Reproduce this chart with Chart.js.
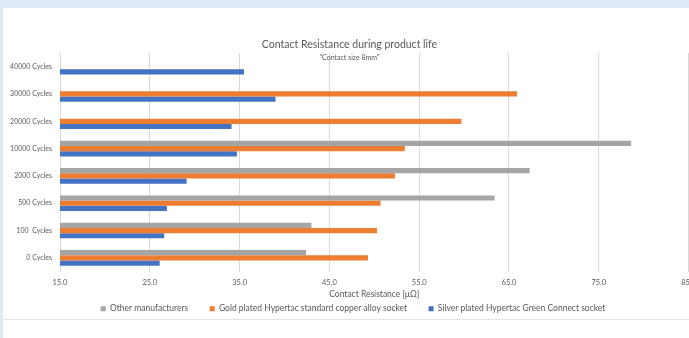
<!DOCTYPE html>
<html>
<head>
<meta charset="utf-8">
<script src="https://cdn.jsdelivr.net/npm/chart.js@4"></script>
<style>
  html, body { margin: 0; padding: 0; background: #dfeaf6; overflow: hidden; }
  body { width: 689px; height: 338px; position: relative; }
  #card { position: absolute; left: 3px; top: 8px; width: 720px; height: 340px; background: #fff; }
  #rule { position: absolute; left: 3px; top: 319px; width: 720px; height: 1px; background: #e4e4e4; }
  canvas { position: absolute; left: 0; top: 0; }
</style>
</head>
<body>
<div id="card"><canvas id="chart" width="700" height="315"></canvas></div>
<div id="rule"></div>
<script>
// Categories (top to bottom as drawn)
const cycles = ['40000 Cycles', '30000 Cycles', '20000 Cycles', '10000 Cycles', '2000 Cycles', '500 Cycles', '100  Cycles', '0 Cycles'];

// Contact resistance [µΩ] per series
const otherManufacturers = [null, null, null, 78.6, 67.3, 63.4, 43.0, 42.4];
const goldPlated = [null, 65.9, 59.7, 53.4, 52.3, 50.7, 50.3, 49.3];
const silverPlated = [35.5, 39.0, 34.1, 34.7, 29.1, 26.9, 26.6, 26.1];

// Axis range
const axisMin = 15;
const axisMax = 85;
const axisStep = 10;

const textColor = '#595959';
const gridColor = '#d9d9d9';
const fontFamily = "Lato, 'Liberation Sans', sans-serif";

// Titles and the axis caption are drawn by hand so they can overlap the plot like in Excel
const titlePlugin = {
    id: 'excelTitles',
    afterDraw(chart) {
        const ctx = chart.ctx;
        const area = chart.chartArea;
        const cx = 346.5;
        ctx.save();
        ctx.fillStyle = textColor;
        ctx.textAlign = 'center';
        ctx.textBaseline = 'middle';
        ctx.font = '10.5px ' + fontFamily;
        ctx.fillText('Contact Resistance during product life', cx, 37);
        ctx.font = '7px ' + fontFamily;
        ctx.fillText('"Contact size 8mm"', cx, 50);
        ctx.font = '8.5px ' + fontFamily;
        ctx.fillText('Contact Resistance [μΩ]', (area.left + area.right) / 2, 286);
        ctx.restore();
    }
};

Chart.defaults.font.family = fontFamily;
Chart.defaults.color = textColor;

new Chart(document.getElementById('chart'), {
    type: 'bar',
    data: {
        labels: cycles,
        datasets: [
            { label: 'Other manufacturers', data: otherManufacturers, backgroundColor: '#a5a5a5' },
            { label: 'Gold plated Hypertac standard copper alloy socket', data: goldPlated, backgroundColor: '#ed7d31' },
            { label: 'Silver plated Hypertac Green Connect socket', data: silverPlated, backgroundColor: '#4472c4' }
        ]
    },
    options: {
        indexAxis: 'y',
        responsive: false,
        animation: false,
        devicePixelRatio: 1,
        datasets: {
            bar: { barPercentage: 1, categoryPercentage: 0.57 }
        },
        layout: {
            padding: { top: 45, left: 0, right: 0, bottom: 0 }
        },
        plugins: {
            legend: {
                position: 'bottom',
                labels: {
                    boxWidth: 5,
                    boxHeight: 5,
                    padding: 13,
                    font: { size: 8.5 },
                    // wider gaps between entries without extra height
                    generateLabels(chart) {
                        const items = Chart.defaults.plugins.legend.labels.generateLabels(chart);
                        items.forEach((item, i) => {
                            if (i < items.length - 1) item.text += '\u2002\u2002';
                        });
                        return items;
                    }
                }
            },
            tooltip: { enabled: false }
        },
        scales: {
            x: {
                min: axisMin,
                max: axisMax,
                border: { display: false },
                grid: { color: gridColor, drawTicks: false },
                ticks: {
                    stepSize: axisStep,
                    padding: 7,
                    font: { size: 7.5 },
                    callback: value => value.toFixed(1)
                },
                afterFit(scale) { scale.height = 20; }
            },
            y: {
                border: { display: false },
                grid: { display: false, drawTicks: false },
                ticks: { padding: 8, font: { size: 7 } },
                afterFit(scale) { scale.width = 57; }
            }
        }
    },
    plugins: [titlePlugin]
});
</script>
</body>
</html>
